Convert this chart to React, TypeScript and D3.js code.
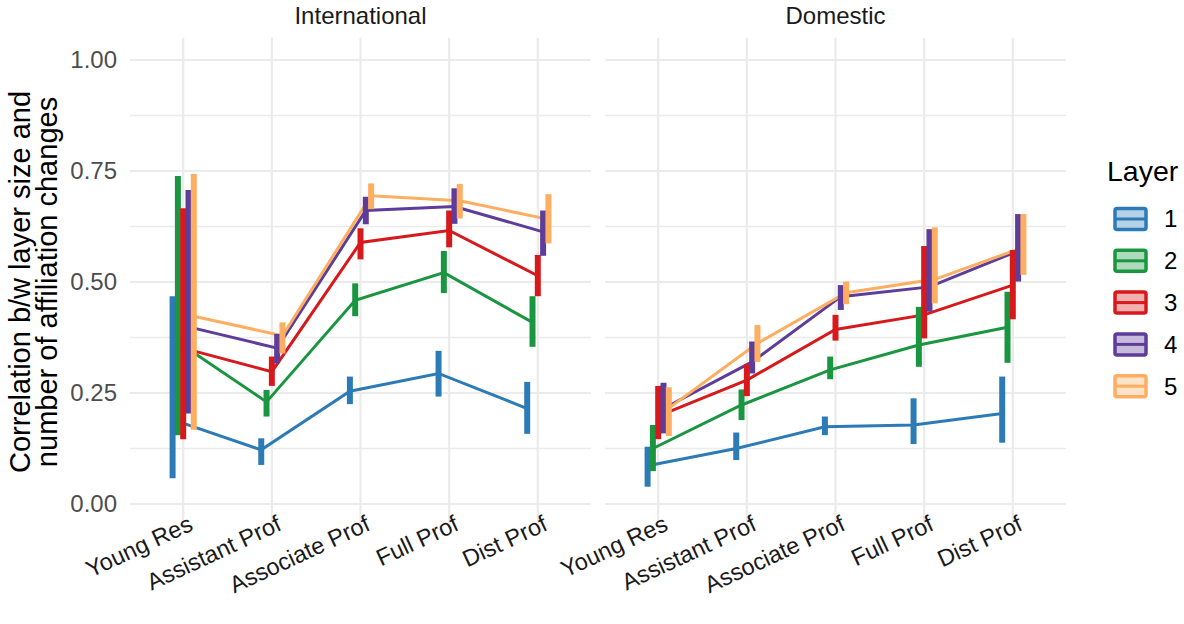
import React, { useEffect, useRef } from 'react';
import * as d3 from 'd3';

// Categories, panels, layers
const categories = ['Young Res', 'Assistant Prof', 'Associate Prof', 'Full Prof', 'Dist Prof'];
const panels = ['International', 'Domestic'];
const layers = ['1', '2', '3', '4', '5'];
const yTicks = [0, 0.25, 0.5, 0.75, 1];
const yMinorTicks = [0.125, 0.375, 0.625, 0.875];

// International: rows = layer, cols = category
const intlMean = [
  [0.19, 0.122, 0.254, 0.294, 0.215],
  [0.365, 0.23, 0.459, 0.521, 0.409],
  [0.351, 0.298, 0.589, 0.616, 0.514],
  [0.399, 0.351, 0.661, 0.67, 0.613],
  [0.423, 0.379, 0.694, 0.683, 0.641],
];
const intlLow = [
  [0.058, 0.088, 0.225, 0.242, 0.158],
  [0.155, 0.197, 0.423, 0.475, 0.354],
  [0.146, 0.266, 0.551, 0.578, 0.468],
  [0.204, 0.317, 0.63, 0.631, 0.559],
  [0.167, 0.339, 0.664, 0.643, 0.587],
];
const intlHigh = [
  [0.468, 0.148, 0.287, 0.345, 0.275],
  [0.739, 0.257, 0.497, 0.57, 0.468],
  [0.666, 0.332, 0.621, 0.661, 0.561],
  [0.707, 0.383, 0.692, 0.711, 0.661],
  [0.743, 0.409, 0.722, 0.721, 0.698],
];

// Domestic
const domMean = [
  [0.086, 0.125, 0.174, 0.178, 0.204],
  [0.125, 0.223, 0.302, 0.358, 0.398],
  [0.198, 0.279, 0.393, 0.426, 0.493],
  [0.215, 0.32, 0.467, 0.489, 0.57],
  [0.216, 0.362, 0.476, 0.506, 0.578],
];
const domLow = [
  [0.039, 0.099, 0.155, 0.135, 0.138],
  [0.074, 0.189, 0.281, 0.309, 0.318],
  [0.146, 0.243, 0.368, 0.373, 0.416],
  [0.159, 0.294, 0.437, 0.433, 0.501],
  [0.153, 0.32, 0.45, 0.452, 0.516],
];
const domHigh = [
  [0.129, 0.161, 0.197, 0.238, 0.287],
  [0.178, 0.258, 0.332, 0.444, 0.478],
  [0.266, 0.315, 0.426, 0.581, 0.572],
  [0.273, 0.366, 0.493, 0.619, 0.653],
  [0.263, 0.403, 0.501, 0.623, 0.653],
];

const colors = ['#2c7bb6', '#1a9641', '#d7191c', '#5e3c99', '#fdae61'];

const App = () => {
  const ref = useRef<SVGSVGElement>(null);

  useEffect(() => {
    const width = 1184;
    const height = 624;
    const font = '"Liberation Sans", Arial, Helvetica, sans-serif';

    const svg = d3.select(ref.current);
    svg.selectAll('*').remove();
    svg
      .attr('width', width)
      .attr('height', height)
      .attr('viewBox', [0, 0, width, height].join(' '))
      .style('font-family', font);

    const y = d3.scaleLinear().domain([0, 1]).range([504, 60]);
    const top = y(1.05);
    const bottom = y(-0.05);

    const panelRanges: [number, number][] = [
      [130, 591],
      [605, 1066],
    ];
    const tables = [
      [intlMean, intlLow, intlHigh],
      [domMean, domLow, domHigh],
    ];
    const dodge = 5.3;

    panels.forEach((name, p) => {
      const x = d3.scalePoint<string>().domain(categories).range(panelRanges[p]).padding(0.6);
      const g = svg.append('g');
      const [x0, x1] = panelRanges[p];

      // grid
      g.selectAll('line.minor')
        .data(yMinorTicks)
        .join('line')
        .attr('x1', x0)
        .attr('x2', x1)
        .attr('y1', (d) => y(d))
        .attr('y2', (d) => y(d))
        .attr('stroke', '#ebebeb')
        .attr('stroke-width', 1.3);
      g.selectAll('line.major')
        .data(yTicks)
        .join('line')
        .attr('x1', x0)
        .attr('x2', x1)
        .attr('y1', (d) => y(d))
        .attr('y2', (d) => y(d))
        .attr('stroke', '#ebebeb')
        .attr('stroke-width', 2.2);
      g.selectAll('line.vmajor')
        .data(categories)
        .join('line')
        .attr('x1', (d) => x(d)!)
        .attr('x2', (d) => x(d)!)
        .attr('y1', top)
        .attr('y2', bottom)
        .attr('stroke', '#ebebeb')
        .attr('stroke-width', 2.2);

      // strip title
      g.append('text')
        .attr('x', (x0 + x1) / 2)
        .attr('y', 24)
        .attr('text-anchor', 'middle')
        .attr('font-size', 24)
        .attr('fill', '#1a1a1a')
        .text(name);

      // x labels
      categories.forEach((c) => {
        g.append('text')
          .attr('transform', `translate(${x(c)! + 4},${bottom - 12}) rotate(-25)`)
          .attr('text-anchor', 'end')
          .attr('dominant-baseline', 'hanging')
          .attr('font-size', 23.5)
          .attr('fill', '#1a1a1a')
          .text(c);
      });

      const [mean, low, high] = tables[p];
      const px = (ci: number, li: number) => x(categories[ci])! + (li - 2) * dodge;

      // lines
      layers.forEach((_, li) => {
        const line = d3
          .line<number>()
          .x((_, ci) => px(ci, li))
          .y((d) => y(d));
        g.append('path')
          .attr('d', line(mean[li]))
          .attr('fill', 'none')
          .attr('stroke', colors[li])
          .attr('stroke-width', 3);
      });

      // error bars
      layers.forEach((_, li) => {
        g.selectAll(null)
          .data(categories)
          .join('line')
          .attr('x1', (_, ci) => px(ci, li))
          .attr('x2', (_, ci) => px(ci, li))
          .attr('y1', (_, ci) => y(low[li][ci]))
          .attr('y2', (_, ci) => y(high[li][ci]))
          .attr('stroke', colors[li])
          .attr('stroke-width', 6);
      });
    });

    // y axis labels
    svg
      .append('g')
      .selectAll('text')
      .data(yTicks)
      .join('text')
      .attr('x', 117)
      .attr('y', (d) => y(d))
      .attr('dy', '0.35em')
      .attr('text-anchor', 'end')
      .attr('font-size', 24)
      .attr('fill', '#4d4d4d')
      .text((d) => d3.format('.2f')(d));

    // y axis title
    const yt = svg
      .append('text')
      .attr('transform', `translate(0,${y(0.5)}) rotate(-90)`)
      .attr('text-anchor', 'middle')
      .attr('font-size', 29)
      .attr('fill', '#000');
    yt.append('tspan').attr('x', 0).attr('y', 30).text('Correlation b/w layer size and');
    yt.append('tspan').attr('x', 0).attr('y', 57).text('number of affiliation changes');

    // legend
    const lg = svg.append('g');
    lg.append('text')
      .attr('x', 1107)
      .attr('y', 181)
      .attr('font-size', 28.5)
      .attr('fill', '#000')
      .text('Layer');
    layers.forEach((l, i) => {
      const cy = 219 + i * 41.8;
      const key = lg.append('g');
      key.append('rect')
        .attr('x', 1115)
        .attr('y', cy - 10.5)
        .attr('width', 31)
        .attr('height', 21)
        .attr('rx', 2)
        .attr('fill', colors[i])
        .attr('fill-opacity', 0.35)
        .attr('stroke', colors[i])
        .attr('stroke-width', 3.5);
      key.append('line')
        .attr('x1', 1115)
        .attr('x2', 1146)
        .attr('y1', cy)
        .attr('y2', cy)
        .attr('stroke', colors[i])
        .attr('stroke-width', 3);
      lg.append('text')
        .attr('x', 1164)
        .attr('y', cy)
        .attr('dy', '0.35em')
        .attr('font-size', 24)
        .attr('fill', '#000')
        .text(l);
    });
  }, []);

  return (
    <div>
      <svg ref={ref} style={{ position: 'absolute', left: 0, top: 0, background: '#fff' }}></svg>
    </div>
  );
};

export default App;
